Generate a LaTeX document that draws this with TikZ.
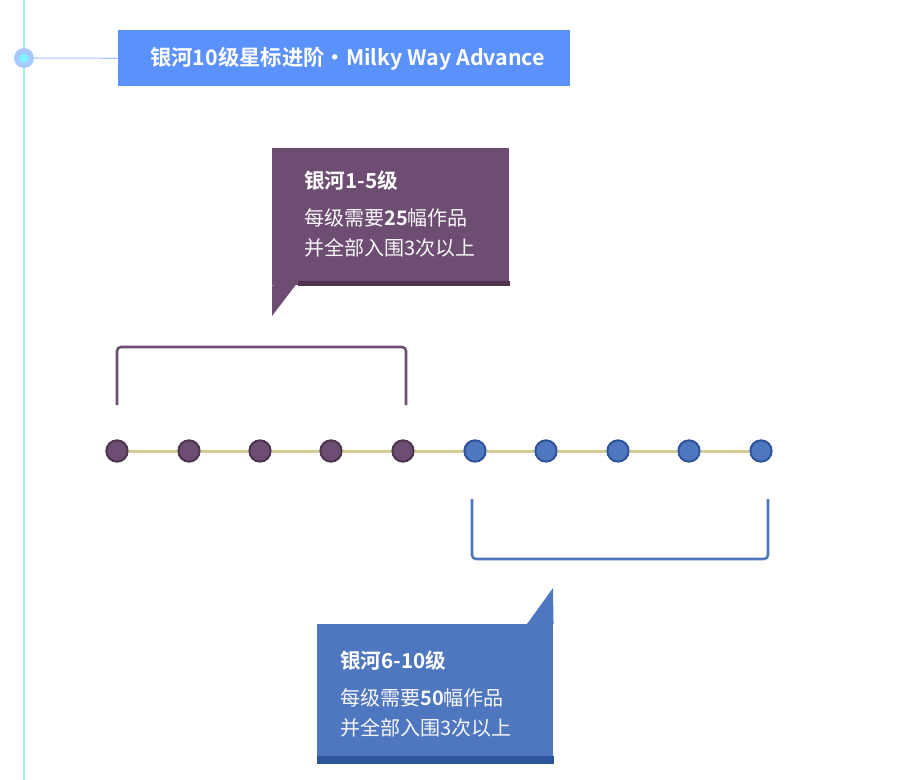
\documentclass[tikz,border=0pt]{standalone}
\usepackage{fontspec}
\setmainfont{Noto Sans CJK SC}[BoldFont={Noto Sans CJK SC Bold}]
\definecolor{guide}{HTML}{A0F0F8}
\definecolor{ringblue}{HTML}{A8C8FF}
\definecolor{dotcyan}{HTML}{7FF2FF}
\definecolor{titleblue}{HTML}{5B91FA}
\definecolor{plum}{HTML}{6E4D73}
\definecolor{plumdark}{HTML}{4D3550}
\definecolor{steel}{HTML}{4F77BF}
\definecolor{steeldark}{HTML}{2E5599}
\definecolor{trackline}{HTML}{D5CD91}

\begin{document}
\begin{tikzpicture}[x=0.75pt, y=-0.75pt,
  panel/.style={rectangle, inner sep=0pt, anchor=north west},
  headtext/.style={text=white, font=\bfseries\fontsize{15.5}{18}\selectfont, anchor=west, inner sep=0pt},
  bodytext/.style={text=white!94!gray, font=\fontsize{15}{22.5}\selectfont, align=left, anchor=west, inner sep=0pt},
  pdot/.style={circle, fill=plum, draw=plumdark, line width=1.5pt, minimum size=16pt, inner sep=0pt},
  bdot/.style={circle, fill=steel, draw=steeldark, line width=1.5pt, minimum size=16pt, inner sep=0pt},
  track/.style={trackline, line width=2.25pt},
  bracket/.style={line width=1.9pt, rounded corners=3pt}]

\useasboundingbox (0, 0) rectangle (898, 780);

% guide line and marker
\draw[guide, line width=0.8pt] (24, 0) -- (24, 780);
\node[circle, fill=ringblue, minimum size=15pt, inner sep=0pt] (mark) at (24, 58) {};
\node[circle, fill=dotcyan, minimum size=7pt, inner sep=0pt] at (mark) {};

% title
\node[panel, fill=titleblue, minimum width=339pt, minimum height=42pt] (title) at (118, 30) {};
\node[text=white, font=\bfseries\fontsize{16}{18}\selectfont] at ([xshift=2.5pt]title.center) {银河10级星标进阶·Milky Way Advance};
\draw[ringblue, line width=0.8pt] (mark) -- (title.west);

% callout 1-5
\node[panel, fill=plum, minimum width=177.75pt, minimum height=102.75pt] (lowbox) at (272, 148) {};
\fill[plumdark] (298, 281) rectangle (lowbox.south east);
\fill[plum] (lowbox.south west) -- (272, 316) -- (298, 282) -- cycle;
\node[headtext] (lowhead) at (304, 181) {银河1-5级};
\node[bodytext] (lowbody) at (304, 233) {每级需要\textbf{25}幅作品\\并全部入围3次以上};

% callout 6-10
\node[panel, fill=steel, minimum width=177pt, minimum height=104.25pt] (highbox) at (317, 624) {};
\fill[steeldark] (317, 756) rectangle (highbox.south east);
\fill[steel] (527, 624) -- (553, 588) -- (highbox.north east) -- cycle;
\node[headtext] (highhead) at (340, 661) {银河6-10级};
\node[bodytext] (highbody) at (340, 713) {每级需要\textbf{50}幅作品\\并全部入围3次以上};

% timeline
\foreach \i/\x in {1/117, 2/189, 3/260, 4/331, 5/403}
  \node[pdot] (d\i) at (\x, 451) {};
\foreach \i/\x in {6/475, 7/546, 8/618, 9/689, 10/761}
  \node[bdot] (d\i) at (\x, 451) {};
\foreach \i [evaluate=\i as \j using int(\i+1)] in {1,...,9}
  \draw[track] (d\i) -- (d\j);

% brackets
\coordinate (lowL) at (117, 405);
\coordinate (lowR) at (406, 405);
\coordinate (highL) at (472, 499);
\coordinate (highR) at (768, 499);
\draw[bracket, plum] (lowL) |- (261, 347) -| (lowR);
\draw[bracket, steel] (highL) |- (620, 559) -| (highR);

\end{tikzpicture}
\end{document}
